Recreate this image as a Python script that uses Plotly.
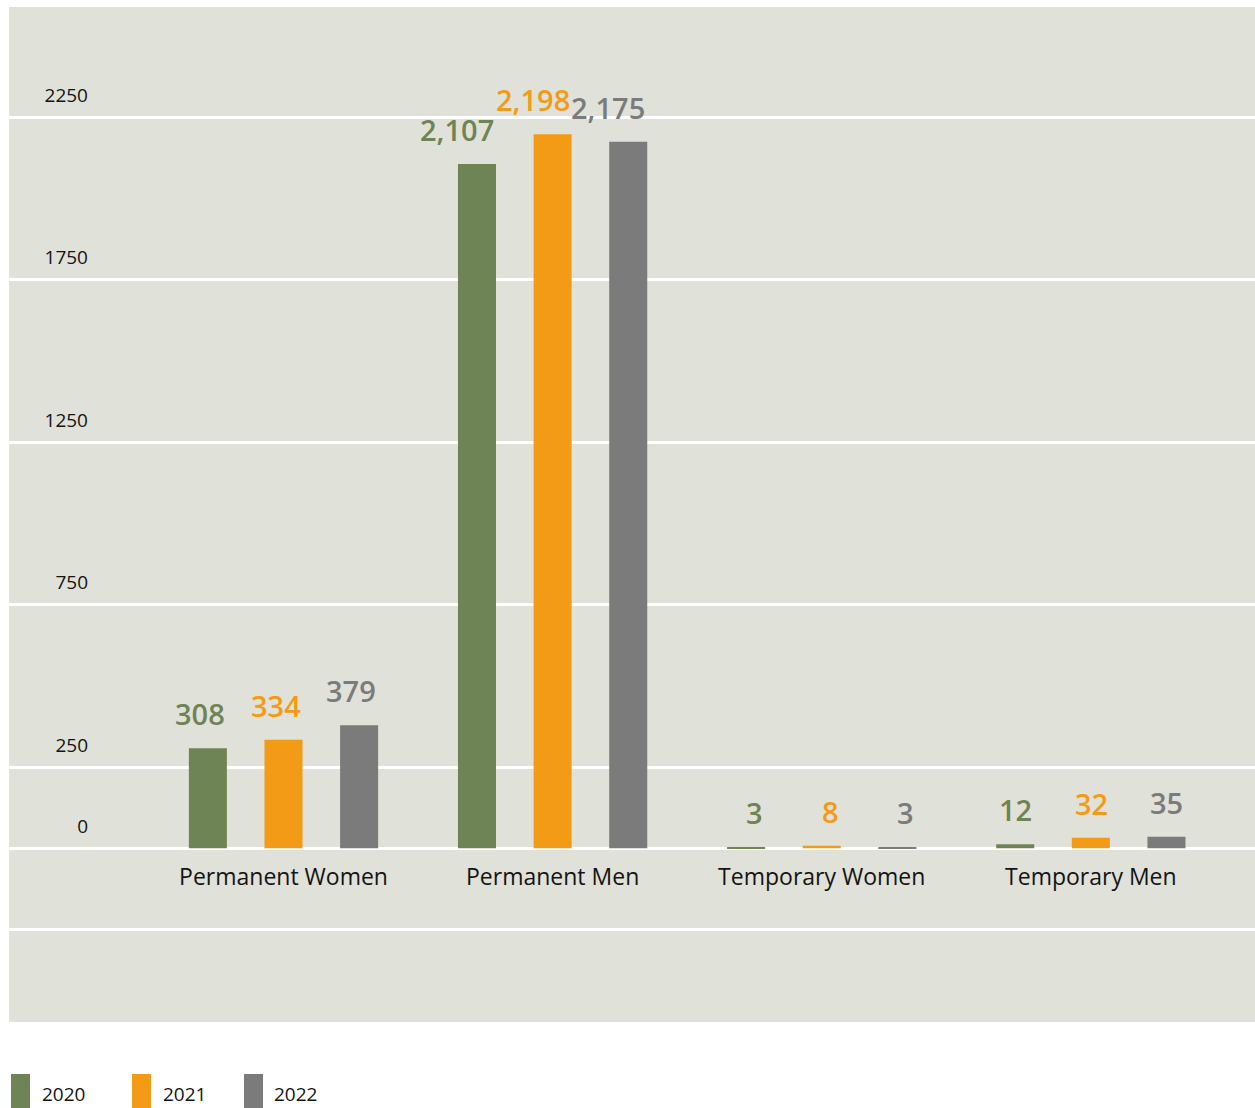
import plotly.graph_objects as go

# ---- data ----
categories = ["Permanent Women", "Permanent Men", "Temporary Women", "Temporary Men"]
years = ["2020", "2021", "2022"]
values_2020 = [308, 2107, 3, 12]
values_2021 = [334, 2198, 8, 32]
values_2022 = [379, 2175, 3, 35]
tick_values = [0, 250, 750, 1250, 1750, 2250]
tick_labels = ["0", "250", "750", "1250", "1750", "2250"]
extra_grid_values = [-250]

series = [values_2020, values_2021, values_2022]

# ---- styles / layout ----
colors = ["#6E8454", "#F39A16", "#7B7B7B"]
bg = "#E0E1D8"
text_dark = "#141414"
W, H = 1255, 1108
ML, MR, MT, MB = 9, 0, 7, 86
plot_w = W - ML - MR
plot_h = H - MT - MB
y_range = [-535, 2590]
x_range = [-1.02, 3.61]
bargap = 0.157
bargroupgap = 0.497


def px_x(px):
    return (px - ML) / plot_w


def px_y(py):
    return (H - MB - py) / plot_h


fig = go.Figure()
for name, vals, col in zip(years, series, colors):
    fig.add_trace(go.Bar(
        x=categories, y=vals, name=name,
        marker=dict(color=col, line=dict(width=0)),
        showlegend=False,
    ))

# value labels, right-aligned to each bar's right edge
n = len(series)
slot = (1 - bargap) / n
half_bar = slot * (1 - bargroupgap) / 2
for j, (vals, col) in enumerate(zip(series, colors)):
    off = (j - (n - 1) / 2) * slot + half_bar
    for i, v in enumerate(vals):
        fig.add_annotation(
            x=i + off, y=v, xref="x", yref="y",
            text=f"{v:,}", showarrow=False,
            xanchor="right", yanchor="bottom", yshift=13,
            font=dict(family="Open Sans", size=29, color=col, weight=600),
        )

# custom legend
legend_px = [(11, 41), (132, 162), (244, 273)]
for (sx, tx), name, col in zip(legend_px, years, colors):
    fig.add_shape(
        type="rect", xref="paper", yref="paper",
        x0=px_x(sx), x1=px_x(sx + 19), y0=px_y(1074), y1=px_y(1110),
        fillcolor=col, line=dict(width=0),
    )
    fig.add_annotation(
        xref="paper", yref="paper", x=px_x(tx), y=px_y(1108),
        text=name, showarrow=False, xanchor="left", yanchor="bottom",
        borderpad=0,
        font=dict(family="Open Sans", size=19, color=text_dark),
    )

x_axis_pos = (0 - y_range[0]) / (y_range[1] - y_range[0])

fig.update_layout(
    width=W, height=H,
    margin=dict(l=ML, r=MR, t=MT, b=MB, pad=0),
    paper_bgcolor="white", plot_bgcolor=bg,
    barmode="group", bargap=bargap, bargroupgap=bargroupgap,
    showlegend=False,
    font=dict(family="Open Sans", color=text_dark),
)
fig.update_xaxes(
    range=x_range, anchor="free", position=x_axis_pos,
    showgrid=False, showline=False, zeroline=False, ticks="",
    tickfont=dict(family="Open Sans", size=23, color=text_dark),
    ticklabelstandoff=13,
)
fig.update_yaxes(
    range=y_range,
    tickvals=extra_grid_values + tick_values,
    ticktext=[""] * len(extra_grid_values) + tick_labels,
    showgrid=True, gridcolor="white", gridwidth=2.5,
    zeroline=True, zerolinecolor="white", zerolinewidth=2.5,
    showline=False, ticks="",
    anchor="free", position=px_x(88),
    ticklabelshift=-22,
    tickfont=dict(family="Open Sans", size=19, color=text_dark),
)

fig.write_html("out.html")
